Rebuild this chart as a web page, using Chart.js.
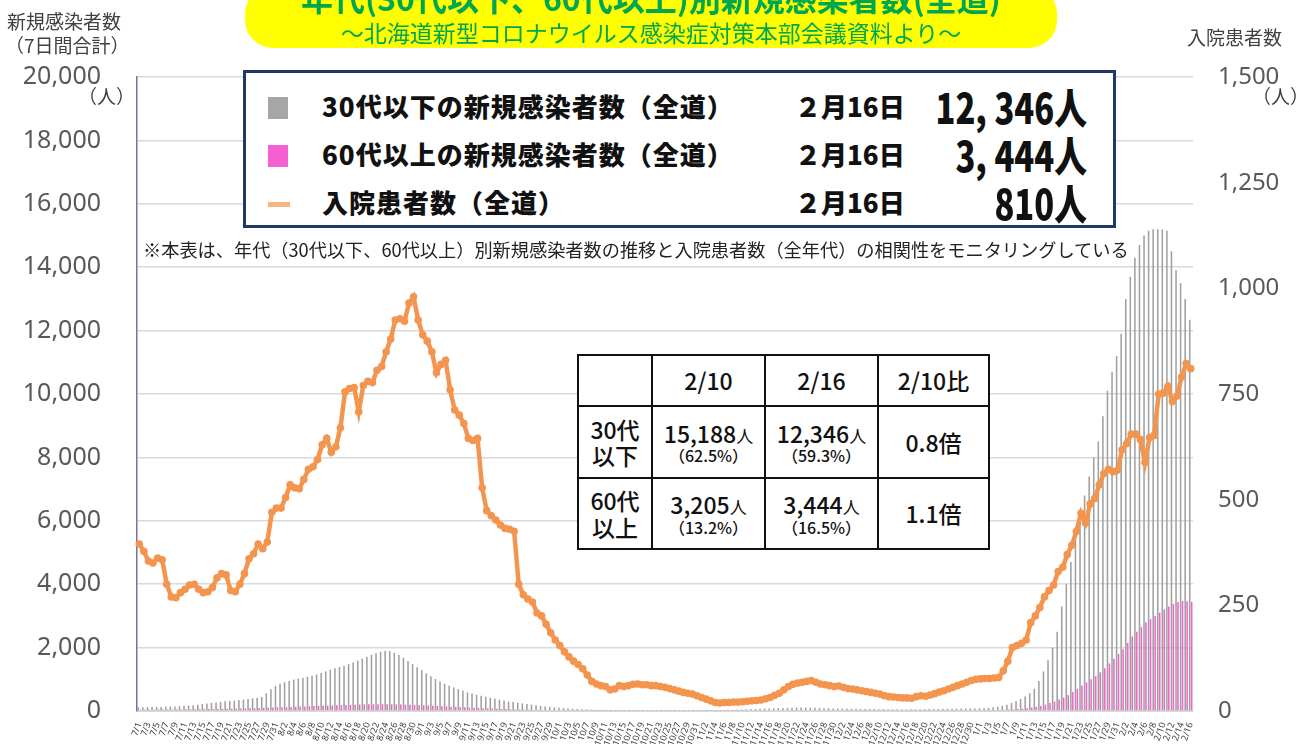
<!DOCTYPE html>
<html lang="ja">
<head>
<meta charset="utf-8">
<script src="https://cdn.jsdelivr.net/npm/chart.js@4.4.0/dist/chart.umd.min.js"></script>
<style>
  html, body { margin: 0; padding: 0; background: #fff; }
  #wrap { position: relative; width: 1307px; height: 744px; overflow: hidden;
          font-family: "Noto Sans CJK JP", "Noto Sans", sans-serif; color: #404040; }
  #chart { position: absolute; left: 0; top: 0; }
  .abs { position: absolute; white-space: nowrap; line-height: 1; }
  #titleBox { left: 245px; top: -14px; width: 812px; height: 62px; background: #ffff00;
              border-radius: 28px; }
  #title { left: 245px; width: 812px; top: -19px; text-align: center; font-size: 32px;
           font-weight: 700; color: #00a650; }
  #subtitle { left: 245px; width: 812px; top: 21px; text-align: center; font-size: 23px;
              color: #00a650; }
  .axisTitle { font-size: 19px; color: #404040; }
  .unit { font-size: 19px; color: #404040; }
  #legendBox { left: 243px; top: 70px; width: 873px; height: 158px; box-sizing: border-box;
               border: 3px solid #203864; background: #fff; }
  .lgText { font-size: 26px; font-weight: 900; color: #111; letter-spacing: 1px; }
  .lgDate { font-size: 26px; font-weight: 900; color: #111; }
  .lgNum { font-size: 42px; font-weight: 900; color: #111; transform: scaleX(0.78);
           transform-origin: right center; text-align: right; width: 200px; }
  #note { left: 143px; top: 240px; font-size: 18.2px; color: #222; }
  #tbl { position: absolute; left: 577px; top: 354px; border-collapse: collapse; background: #fff;
         font-family: "Noto Sans CJK JP", sans-serif; color: #111; }
  #tbl td { border: 2px solid #111; text-align: center; padding: 0; line-height: 1.15; }
  .big { font-size: 23px; font-weight: 500; }
  .sm { font-size: 17px; }
  .pc { font-size: 16px; font-weight: 500; }
</style>
</head>
<body>
<div id="wrap">
  <canvas id="chart" width="1307" height="762"></canvas>

  <div class="abs" id="titleBox"></div>
  <div class="abs" id="title">年代(30代以下、60代以上)別新規感染者数(全道)</div>
  <div class="abs" id="subtitle">～北海道新型コロナウイルス感染症対策本部会議資料より～</div>

  <div class="abs axisTitle" style="left:7px; top:11px;">新規感染者数</div>
  <div class="abs axisTitle" style="left:5px; top:35px;">（7日間合計）</div>
  <div class="abs unit" style="left:78px; top:86px;">（人）</div>
  <div class="abs axisTitle" style="left:1187px; top:27px;">入院患者数</div>
  <div class="abs unit" style="left:1252px; top:86px;">（人）</div>

  <div class="abs" id="legendBox"></div>
  <div class="abs" style="left:268px; top:97px; width:20px; height:22px; background:#a6a6a6;"></div>
  <div class="abs lgText" style="left:322px; top:93px;">30代以下の新規感染者数（全道）</div>
  <div class="abs lgDate" style="left:795px; top:93px;">２月16日</div>
  <div class="abs lgNum" style="left:887px; top:85px;">12, 346人</div>

  <div class="abs" style="left:268px; top:145px; width:20px; height:22px; background:#f55fd2;"></div>
  <div class="abs lgText" style="left:322px; top:141px;">60代以上の新規感染者数（全道）</div>
  <div class="abs lgDate" style="left:795px; top:141px;">２月16日</div>
  <div class="abs lgNum" style="left:887px; top:133px;">3, 444人</div>

  <div class="abs" style="left:268px; top:202px; width:22px; height:5px; background:#f8b582;"></div>
  <div class="abs lgText" style="left:322px; top:189px;">入院患者数（全道）</div>
  <div class="abs lgDate" style="left:795px; top:189px;">２月16日</div>
  <div class="abs lgNum" style="left:887px; top:181px;">810人</div>

  <div class="abs" id="note">※本表は、年代（30代以下、60代以上）別新規感染者数の推移と入院患者数（全年代）の相関性をモニタリングしている</div>

  <table id="tbl">
    <tr style="height:51px;">
      <td style="width:72px;"></td>
      <td style="width:111px;" class="big">2/10</td>
      <td style="width:111px;" class="big">2/16</td>
      <td style="width:109px;" class="big">2/10比</td>
    </tr>
    <tr style="height:72px;">
      <td class="big">30代<br>以下</td>
      <td><span class="big">15,188</span><span class="sm">人</span><br><span class="pc">（62.5%）</span></td>
      <td><span class="big">12,346</span><span class="sm">人</span><br><span class="pc">（59.3%）</span></td>
      <td class="big">0.8倍</td>
    </tr>
    <tr style="height:71px;">
      <td class="big">60代<br>以上</td>
      <td><span class="big">3,205</span><span class="sm">人</span><br><span class="pc">（13.2%）</span></td>
      <td><span class="big">3,444</span><span class="sm">人</span><br><span class="pc">（16.5%）</span></td>
      <td class="big">1.1倍</td>
    </tr>
  </table>
</div>

<script>
// months covered (month, number of days shown)
const monthDays = [[7, 31], [8, 31], [9, 30], [10, 31], [11, 30], [12, 31], [1, 31], [2, 16]];

// 30代以下 新規感染者数 (7日間合計)
const under30Jul = [120, 118, 120, 125, 128, 130, 135, 140, 145, 150, 160, 170, 180, 200, 220, 240, 255, 270, 290, 310, 320, 330, 345, 360, 380, 400, 420, 440, 560, 690, 790];
const under30Aug = [860, 910, 950, 990, 1020, 1050, 1080, 1110, 1150, 1200, 1250, 1300, 1350, 1390, 1430, 1480, 1530, 1590, 1650, 1710, 1770, 1820, 1870, 1900, 1890, 1840, 1770, 1680, 1580, 1480, 1380];
const under30Sep = [1290, 1190, 1100, 1010, 930, 860, 800, 740, 690, 640, 590, 550, 510, 480, 450, 420, 390, 360, 330, 300, 280, 260, 240, 220, 200, 180, 160, 145, 130, 115];
const under30Oct = [100, 90, 80, 70, 60, 55, 50, 45, 40, 38, 35, 33, 30, 30, 28, 28, 26, 25, 25, 24, 24, 23, 23, 22, 22, 22, 22, 22, 23, 24, 25];
const under30Nov = [26, 28, 30, 32, 34, 36, 38, 40, 45, 50, 55, 60, 65, 70, 75, 80, 85, 90, 95, 100, 105, 110, 110, 108, 105, 100, 95, 90, 85, 80];
const under30Dec = [78, 75, 72, 70, 68, 66, 64, 62, 60, 58, 56, 55, 54, 53, 52, 52, 52, 53, 55, 57, 60, 62, 65, 68, 70, 72, 74, 76, 78, 80, 82];
const under30Jan = [85, 90, 100, 115, 135, 165, 200, 250, 310, 380, 460, 560, 700, 950, 1250, 1600, 2000, 2500, 3300, 4000, 4700, 5400, 6100, 6800, 7400, 8000, 8500, 9300, 10100, 10700, 11200];
const under30Feb = [11900, 13000, 13700, 14300, 14700, 15000, 15150, 15200, 15200, 15188, 15150, 14500, 13900, 13500, 13000, 12346];

// 60代以上 新規感染者数 (7日間合計)
const over60Jul = [40, 40, 42, 42, 44, 45, 46, 48, 50, 50, 52, 54, 55, 58, 60, 62, 64, 66, 68, 70, 72, 75, 78, 80, 85, 90, 95, 100, 105, 110, 115];
const over60Aug = [120, 125, 130, 135, 140, 145, 150, 155, 160, 165, 170, 175, 180, 185, 190, 195, 200, 205, 210, 212, 214, 215, 215, 214, 212, 208, 204, 200, 195, 190, 185];
const over60Sep = [180, 175, 168, 160, 152, 145, 138, 130, 122, 115, 108, 100, 94, 88, 82, 76, 70, 65, 60, 55, 50, 46, 42, 38, 35, 32, 30, 28, 26, 24];
const over60Oct = [22, 20, 18, 17, 16, 15, 14, 13, 12, 12, 11, 11, 10, 10, 10, 10, 10, 10, 10, 10, 10, 10, 10, 10, 10, 10, 10, 10, 10, 10, 10];
const over60Nov = [10, 11, 12, 12, 13, 14, 15, 16, 17, 18, 19, 20, 21, 22, 23, 24, 25, 26, 27, 28, 28, 28, 27, 26, 25, 24, 23, 22, 21, 20];
const over60Dec = [20, 19, 18, 18, 17, 17, 16, 16, 16, 15, 15, 15, 15, 15, 15, 15, 15, 15, 16, 16, 17, 17, 18, 18, 19, 19, 20, 20, 21, 22, 24];
const over60Jan = [26, 28, 30, 33, 36, 40, 45, 50, 60, 75, 90, 110, 130, 160, 200, 250, 300, 360, 420, 500, 600, 700, 800, 900, 1000, 1100, 1220, 1350, 1500, 1650, 1800];
const over60Feb = [1950, 2150, 2350, 2500, 2650, 2800, 2900, 3000, 3100, 3205, 3300, 3380, 3440, 3470, 3460, 3444];

// 入院患者数 (全年代)
const hospJul = [395, 378, 355, 350, 362, 358, 300, 270, 268, 280, 288, 298, 300, 288, 280, 282, 292, 315, 325, 322, 285, 282, 300, 325, 360, 372, 395, 384, 400, 470, 480];
const hospAug = [480, 505, 535, 528, 526, 548, 572, 578, 595, 630, 645, 612, 625, 670, 755, 763, 765, 708, 770, 780, 777, 806, 815, 850, 880, 925, 928, 922, 965, 980, 925];
const hospSep = [890, 875, 850, 800, 820, 830, 760, 712, 700, 680, 645, 640, 645, 528, 474, 462, 452, 440, 432, 430, 425, 300, 275, 265, 258, 232, 225, 205, 185, 168];
const hospOct = [155, 140, 128, 118, 110, 100, 85, 70, 64, 60, 58, 50, 52, 60, 58, 60, 63, 64, 62, 62, 60, 60, 58, 56, 53, 50, 47, 44, 42, 40, 36];
const hospNov = [32, 28, 24, 20, 19, 20, 20, 21, 21, 22, 23, 24, 25, 26, 29, 32, 37, 42, 50, 58, 63, 66, 68, 70, 72, 68, 64, 62, 60, 58];
const hospDec = [59, 56, 53, 52, 50, 48, 46, 44, 42, 40, 36, 34, 33, 32, 31, 31, 30, 34, 36, 35, 38, 41, 45, 48, 52, 56, 60, 64, 68, 72, 75];
const hospJan = [76, 77, 77, 78, 79, 95, 118, 150, 155, 160, 168, 209, 225, 245, 270, 285, 298, 330, 340, 370, 392, 425, 468, 445, 490, 503, 535, 562, 572, 566, 570];
const hospFeb = [618, 633, 655, 655, 642, 588, 647, 652, 750, 752, 768, 732, 745, 790, 822, 810];

const leftTicksMax = 20000;
const rightTicksMax = 1500;

// build the daily category labels
const dayLabels = [];
monthDays.forEach(([m, n]) => {
    for (let d = 1; d <= n; d++) dayLabels.push(m + '/' + d);
});

const under30 = [].concat(under30Jul, under30Aug, under30Sep, under30Oct, under30Nov, under30Dec, under30Jan, under30Feb);
const over60 = [].concat(over60Jul, over60Aug, over60Sep, over60Oct, over60Nov, over60Dec, over60Jan, over60Feb);
const hospital = [].concat(hospJul, hospAug, hospSep, hospOct, hospNov, hospDec, hospJan, hospFeb);

const ctx = document.getElementById('chart').getContext('2d');
new Chart(ctx, {
    data: {
        labels: dayLabels,
        datasets: [
            {
                type: 'line',
                label: '入院患者数（全道）',
                data: hospital,
                yAxisID: 'y1',
                borderColor: '#f4954f',
                backgroundColor: '#f4954f',
                borderWidth: 4.5,
                pointRadius: 3.8,
                pointBorderWidth: 0,
                tension: 0,
                order: 0
            },
            {
                type: 'bar',
                label: '30代以下の新規感染者数（全道）',
                data: under30,
                yAxisID: 'y',
                backgroundColor: '#a0a0a0',
                barPercentage: 0.8,
                categoryPercentage: 0.85,
                order: 1
            },
            {
                type: 'bar',
                label: '60代以上の新規感染者数（全道）',
                data: over60,
                yAxisID: 'y',
                backgroundColor: '#ee66c6',
                barPercentage: 0.8,
                categoryPercentage: 0.85,
                order: 1
            }
        ]
    },
    options: {
        responsive: false,
        animation: false,
        layout: { padding: { top: 77, left: 0, right: 0, bottom: 0 } },
        plugins: {
            legend: { display: false },
            tooltip: { enabled: false }
        },
        scales: {
            x: {
                type: 'category',
                grid: { display: false },
                border: { display: true, color: '#d9d9d9' },
                ticks: {
                    autoSkip: false,
                    minRotation: 70,
                    maxRotation: 70,
                    padding: 2,
                    color: '#404040',
                    font: { size: 9, family: 'Noto Sans' },
                    callback: (v, i) => (i % 2 === 0 ? dayLabels[i] : '')
                },
                afterFit: (scale) => { scale.height = 34; }
            },
            y: {
                position: 'left',
                min: 0,
                max: leftTicksMax,
                grid: { color: '#d9d9d9', lineWidth: 1.5, drawTicks: false },
                border: { display: true, color: '#7d6fa6', width: 1.5 },
                ticks: {
                    stepSize: 2000,
                    padding: 36,
                    color: '#595959',
                    font: { size: 25, family: 'Noto Sans' },
                    callback: (v) => v.toLocaleString('en-US')
                },
                afterFit: (scale) => { scale.width = 137; }
            },
            y1: {
                position: 'right',
                min: 0,
                max: rightTicksMax,
                grid: { display: false, drawTicks: false },
                border: { display: false },
                ticks: {
                    stepSize: 250,
                    padding: 25,
                    color: '#595959',
                    font: { size: 24, family: 'Noto Sans' },
                    callback: (v) => v.toLocaleString('en-US')
                },
                afterFit: (scale) => { scale.width = 114; }
            }
        }
    }
});
</script>
</body>
</html>
